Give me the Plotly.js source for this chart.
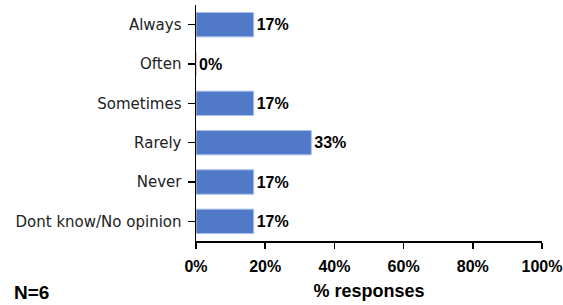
<!DOCTYPE html>
<html>
<head>
<meta charset="utf-8">
<script src="https://cdn.plot.ly/plotly-3.0.1.min.js"></script>
<style>html,body{margin:0;padding:0;background:#fff;}#chart{width:563px;height:305px;}</style>
</head>
<body>
<div id="chart"></div>
<script>
const categories = ["Always", "Often", "Sometimes", "Rarely", "Never", "Dont know/No opinion"];
const values = [16.67, 0, 16.67, 33.33, 16.67, 16.67];
const xTickValues = [0, 20, 40, 60, 80, 100];
const xTickLabels = ["0%", "20%", "40%", "60%", "80%", "100%"];
const sampleNote = "N=6";

const trace = {
  type: "bar",
  orientation: "h",
  y: categories,
  x: values,
  marker: {color: "#5079c8", line: {color: "#a9c0ea", width: 1}},
  text: values.map(v => Math.round(v) + "%"),
  textposition: "outside",
  textfont: {family: "Liberation Sans, Arial, sans-serif", size: 16, color: "#000", weight: "bold"},
  cliponaxis: false,
  hoverinfo: "none"
};

const layout = {
  width: 563, height: 305,
  margin: {l: 196, r: 21, t: 5, b: 64},
  paper_bgcolor: "#fff", plot_bgcolor: "#fff",
  bargap: 0.38,
  showlegend: false,
  xaxis: {
    range: [0, 100], tickvals: xTickValues, ticktext: xTickLabels,
    showgrid: false, zeroline: false, showline: true, linecolor: "#000", linewidth: 1.5,
    ticks: "outside", ticklen: 6, tickwidth: 1.5, tickcolor: "#000", ticklabelstandoff: 4,
    tickfont: {family: "Liberation Sans, Arial, sans-serif", size: 16, color: "#000", weight: "bold"},
    title: {text: "% responses", font: {family: "Liberation Sans, Arial, sans-serif", size: 18, color: "#000", weight: "bold"}, standoff: 10}
  },
  yaxis: {
    autorange: "reversed", categoryorder: "array", categoryarray: categories,
    showgrid: false, zeroline: false, showline: true, linecolor: "#000", linewidth: 1.5,
    ticks: "outside", ticklen: 7, tickwidth: 1.5, tickcolor: "#000", ticklabelstandoff: 3,
    tickfont: {family: "DejaVu Sans, sans-serif", size: 15, color: "#222"}
  },
  annotations: [{
    text: sampleNote, xref: "paper", yref: "paper", x: -184/346, y: -51/236,
    xanchor: "left", yanchor: "middle", showarrow: false,
    font: {family: "Liberation Sans, Arial, sans-serif", size: 19, color: "#000", weight: "bold"}
  }]
};

Plotly.newPlot("chart", [trace], layout, {displayModeBar: false, staticPlot: true});
</script>
</body>
</html>
